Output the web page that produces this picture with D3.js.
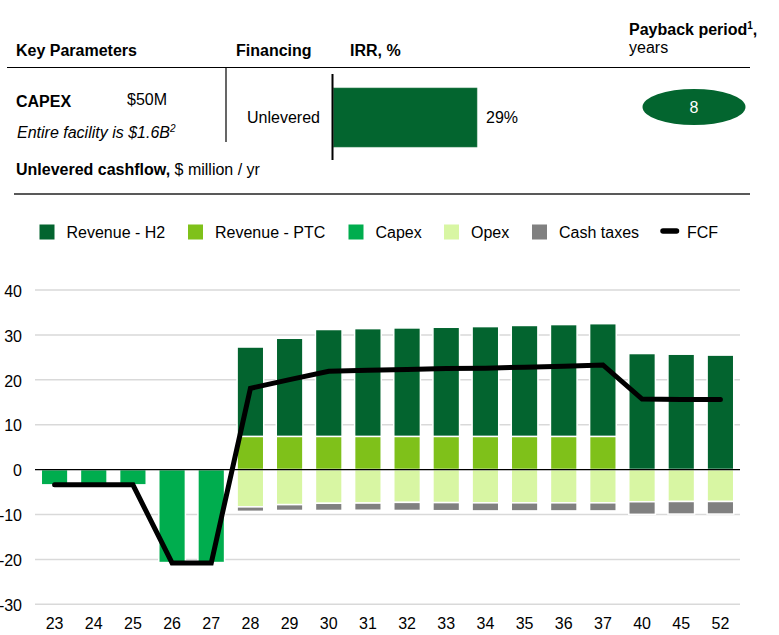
<!DOCTYPE html>
<html>
<head>
<meta charset="utf-8">
<script src="https://cdn.jsdelivr.net/npm/d3@7"></script>
<style>
  body { margin: 0; background: #fff; }
  svg { display: block; font-family: "Liberation Sans", Arial, sans-serif; }
</style>
</head>
<body>
<svg id="chart" width="779" height="635"></svg>
<script>
// Years (20xx) on the horizontal axis
const years = ["23","24","25","26","27","28","29","30","31","32","33","34","35","36","37","40","45","52"];

// Unlevered cashflow components, $ million / yr
const revenueH2  = [0, 0, 0, 0, 0, 19.9, 21.85, 23.8, 24.0, 24.15, 24.3, 24.45, 24.7, 24.9, 25.1, 25.85, 25.7, 25.5];
const revenuePTC = [0, 0, 0, 0, 0, 7.4, 7.4, 7.4, 7.4, 7.4, 7.4, 7.4, 7.4, 7.4, 7.4, 0, 0, 0];
const capex      = [-3.4, -3.4, -3.4, -20.7, -20.7, 0, 0, 0, 0, 0, 0, 0, 0, 0, 0, 0, 0, 0];
const opex       = [0, 0, 0, 0, 0, -8.3, -7.8, -7.5, -7.45, -7.3, -7.35, -7.4, -7.4, -7.4, -7.4, -7.16, -7.1, -7.1];
const cashTaxes  = [0, 0, 0, 0, 0, -1.0, -1.3, -1.6, -1.6, -1.8, -1.8, -1.8, -1.8, -1.8, -1.8, -2.8, -2.8, -2.8];
const fcf        = [-3.4, -3.4, -3.4, -20.8, -20.8, 18.1, 20.05, 21.9, 22.1, 22.3, 22.5, 22.6, 22.8, 23.0, 23.3, 15.7, 15.6, 15.6];

const yTicks = [40, 30, 20, 10, 0, -10, -20, -30];

// Summary figures
const irrLabel = "Unlevered";
const irrValue = 29;
const paybackYears = 8;

const seriesNames  = ["Revenue - H2", "Revenue - PTC", "Capex", "Opex", "Cash taxes"];
const seriesColors = ["#03642f", "#7fc11a", "#00ad4e", "#d8f6a3", "#808080"];

const svg = d3.select("#chart");
const FONT = 16;

// ---------- Header table ----------
const head = svg.append("g").attr("font-size", FONT).attr("fill", "#000");

head.append("text").attr("x", 16).attr("y", 56).attr("font-weight", "bold").text("Key Parameters");
head.append("text").attr("x", 236).attr("y", 56).attr("font-weight", "bold").text("Financing");
head.append("text").attr("x", 350).attr("y", 56).attr("font-weight", "bold").text("IRR, %");

const pb = head.append("text").attr("x", 629).attr("y", 35).attr("font-weight", "bold");
pb.append("tspan").text("Payback period");
pb.append("tspan").attr("font-size", 10).attr("dy", -6).text("1");
pb.append("tspan").attr("dy", 6).text(",");
head.append("text").attr("x", 629).attr("y", 53).text("years");

head.append("line").attr("x1", 7).attr("x2", 750).attr("y1", 67.5).attr("y2", 67.5)
  .attr("stroke", "#000").attr("stroke-width", 1.2);
head.append("line").attr("x1", 226).attr("x2", 226).attr("y1", 67).attr("y2", 142)
  .attr("stroke", "#000").attr("stroke-width", 1.2);

head.append("text").attr("x", 16).attr("y", 107).attr("font-weight", "bold").text("CAPEX");
head.append("text").attr("x", 127).attr("y", 105).text("$50M");
const fac = head.append("text").attr("x", 17).attr("y", 138).attr("font-style", "italic");
fac.append("tspan").text("Entire facility is $1.6B");
fac.append("tspan").attr("font-size", 10).attr("dy", -6).text("2");

const cf = head.append("text").attr("x", 16).attr("y", 175);
cf.append("tspan").attr("font-weight", "bold").text("Unlevered cashflow,");
cf.append("tspan").text(" $ million / yr");

head.append("line").attr("x1", 14).attr("x2", 750).attr("y1", 194).attr("y2", 194)
  .attr("stroke", "#595959").attr("stroke-width", 2.2);

// IRR bar
const xIrr = d3.scaleLinear().domain([0, irrValue]).range([333.5, 477]);
head.append("rect")
  .attr("x", xIrr(0)).attr("y", 88)
  .attr("width", xIrr(irrValue) - xIrr(0)).attr("height", 59)
  .attr("fill", "#03652f").attr("stroke", "#2e7d4f").attr("stroke-width", 0.6);
head.append("line").attr("x1", 332.5).attr("x2", 332.5).attr("y1", 74).attr("y2", 160)
  .attr("stroke", "#000").attr("stroke-width", 2);
head.append("text").attr("x", 320).attr("y", 123).attr("text-anchor", "end").text(irrLabel);
head.append("text").attr("x", xIrr(irrValue) + 9).attr("y", 123).text(irrValue + "%");

// Payback badge
head.append("ellipse").attr("cx", 694).attr("cy", 107).attr("rx", 51.5).attr("ry", 18)
  .attr("fill", "#03652f");
head.append("text").attr("x", 694).attr("y", 113).attr("text-anchor", "middle")
  .attr("fill", "#fff").text(paybackYears);

// ---------- Legend ----------
const legendX = [39.5, 188, 348.5, 444, 532];
const leg = svg.append("g").attr("font-size", FONT);
seriesNames.forEach((name, i) => {
  leg.append("rect").attr("x", legendX[i]).attr("y", 224.5).attr("width", 15).attr("height", 15)
    .attr("fill", seriesColors[i]);
  leg.append("text").attr("x", legendX[i] + 27).attr("y", 237.5).text(name);
});
leg.append("line").attr("x1", 663).attr("x2", 676.5).attr("y1", 231).attr("y2", 231)
  .attr("stroke", "#000").attr("stroke-width", 5.5).attr("stroke-linecap", "round");
leg.append("text").attr("x", 687).attr("y", 237.5).text("FCF");

// ---------- Cashflow chart ----------
const x = d3.scaleBand().domain(years).range([35, 740]).paddingInner(0.32).paddingOuter(0.16);
const y = d3.scaleLinear().domain([-30, 40]).range([604.3, 290]);

// gridlines
svg.append("g").selectAll("line").data(yTicks.filter(d => d !== 0)).join("line")
  .attr("x1", 35).attr("x2", 740)
  .attr("y1", d => y(d)).attr("y2", d => y(d))
  .attr("stroke", "#d9d9d9").attr("stroke-width", 1.5);

// y tick labels
svg.append("g").attr("font-size", FONT).selectAll("text").data(yTicks).join("text")
  .attr("x", 22).attr("y", d => y(d)).attr("dy", "0.42em")
  .attr("text-anchor", "end").text(d => d);

// stacked bars: positives stack up from zero, negatives stack down
const seriesData = [revenueH2, revenuePTC, capex, opex, cashTaxes];
const posOrder = [1, 0];       // PTC at the base, H2 above
const negOrder = [2, 3, 4];    // capex, opex, then cash taxes below
const segments = [];
years.forEach((yr, j) => {
  let up = 0, down = 0;
  posOrder.forEach(s => {
    const v = seriesData[s][j];
    if (v > 0) { segments.push({ yr, s, y0: up, y1: up + v }); up += v; }
  });
  negOrder.forEach(s => {
    const v = seriesData[s][j];
    if (v < 0) { segments.push({ yr, s, y0: down, y1: down + v }); down += v; }
  });
});

svg.append("g").selectAll("rect").data(segments).join("rect")
  .attr("x", d => x(d.yr))
  .attr("width", x.bandwidth())
  .attr("y", d => y(Math.max(d.y0, d.y1)))
  .attr("height", d => Math.abs(y(d.y0) - y(d.y1)))
  .attr("fill", d => seriesColors[d.s])
  .attr("stroke", "#fff").attr("stroke-width", 1.5);

// zero line
svg.append("line").attr("x1", 35).attr("x2", 740).attr("y1", y(0)).attr("y2", y(0))
  .attr("stroke", "#000").attr("stroke-width", 1.3);

// FCF line
const line = d3.line().x((d, i) => x(years[i]) + x.bandwidth() / 2).y(d => y(d));
svg.append("path").datum(fcf).attr("d", line)
  .attr("fill", "none").attr("stroke", "#000").attr("stroke-width", 5)
  .attr("stroke-linecap", "round").attr("stroke-linejoin", "miter");

// x tick labels
svg.append("g").attr("font-size", FONT).selectAll("text").data(years).join("text")
  .attr("x", d => x(d) + x.bandwidth() / 2).attr("y", 629)
  .attr("text-anchor", "middle").text(d => d);
</script>
</body>
</html>
